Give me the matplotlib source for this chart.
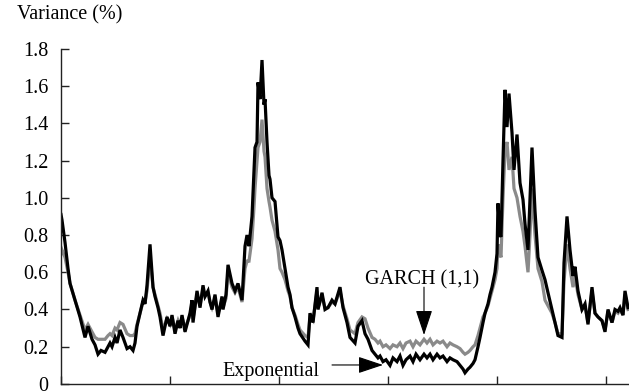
import matplotlib
matplotlib.use("Agg")
import matplotlib.pyplot as plt

plt.rcParams['font.family'] = ['Liberation Serif', 'DejaVu Serif']

# observation index (weekly-ish) and variance estimates in %
obs = [0, 1, 4, 7, 9, 14, 19, 24, 27, 31, 34, 37, 40, 44, 47, 49, 51, 54, 56, 59,
       62, 66, 69, 72, 74, 76, 79, 82, 84, 86, 89, 92, 94, 97, 99, 102, 104, 106, 109, 111,
       114, 117, 119, 121, 124, 127, 129, 131, 132, 136, 139, 142, 144, 147, 149, 151, 154, 157, 161, 162,
       165, 167, 171, 174, 177, 181, 184, 186, 188, 191, 193, 194, 196, 197, 199, 201, 203, 204, 206, 208,
       209, 211, 214, 217, 219, 221, 224, 227, 229, 231, 234, 237, 239, 244, 247, 249, 252, 256, 257, 261,
       264, 267, 271, 274, 279, 282, 286, 289, 294, 297, 301, 304, 307, 311, 314, 317, 319, 322, 325, 329,
       332, 336, 339, 342, 345, 349, 352, 355, 359, 363, 366, 369, 372, 376, 379, 382, 386, 389, 392, 396,
       399, 402, 404, 407, 409, 412, 414, 417, 419, 422, 424, 427, 429, 431, 434, 436, 437, 439, 440, 442,
       444, 446, 448, 451, 453, 456, 459, 462, 464, 467, 469, 471, 474, 477, 481, 484, 487, 491, 494, 497,
       501, 503, 506, 509, 512, 514, 517, 521, 524, 527, 531, 534, 537, 541, 544, 547, 551, 554, 557, 559,
       562, 564, 567]

exponential = [0.91, 0.88, 0.76, 0.62, 0.54, 0.45, 0.36, 0.25, 0.31, 0.24, 0.21, 0.16, 0.18, 0.17, 0.20, 0.22, 0.20, 0.25, 0.22, 0.29,
               0.25, 0.19, 0.20, 0.18, 0.22, 0.31, 0.38, 0.45, 0.43, 0.53, 0.75, 0.52, 0.47, 0.41, 0.36, 0.26, 0.31, 0.36, 0.31, 0.37,
               0.27, 0.34, 0.30, 0.37, 0.28, 0.34, 0.38, 0.45, 0.33, 0.50, 0.41, 0.53, 0.47, 0.50, 0.44, 0.40, 0.48, 0.36, 0.47, 0.40,
               0.48, 0.64, 0.54, 0.50, 0.54, 0.45, 0.74, 0.80, 0.74, 0.90, 1.15, 1.27, 1.30, 1.62, 1.53, 1.74, 1.50, 1.53, 1.30, 1.12,
               1.10, 1.00, 0.98, 0.79, 0.77, 0.72, 0.62, 0.52, 0.48, 0.41, 0.36, 0.30, 0.27, 0.23, 0.21, 0.38, 0.33, 0.52, 0.40, 0.49,
               0.40, 0.41, 0.45, 0.43, 0.52, 0.41, 0.33, 0.25, 0.22, 0.31, 0.34, 0.27, 0.24, 0.18, 0.16, 0.14, 0.15, 0.12, 0.13, 0.10,
               0.14, 0.12, 0.15, 0.10, 0.13, 0.15, 0.12, 0.16, 0.13, 0.16, 0.14, 0.16, 0.13, 0.16, 0.14, 0.15, 0.12, 0.14, 0.13, 0.12,
               0.10, 0.08, 0.06, 0.08, 0.09, 0.11, 0.13, 0.20, 0.25, 0.33, 0.38, 0.43, 0.48, 0.52, 0.60, 0.70, 0.97, 0.80, 0.79, 1.20,
               1.58, 1.38, 1.56, 1.35, 1.15, 1.34, 1.08, 0.99, 0.86, 0.72, 0.99, 1.27, 0.93, 0.68, 0.61, 0.56, 0.49, 0.40, 0.33, 0.26,
               0.25, 0.65, 0.90, 0.72, 0.58, 0.63, 0.50, 0.40, 0.43, 0.32, 0.52, 0.38, 0.36, 0.34, 0.28, 0.40, 0.33, 0.40, 0.39, 0.41,
               0.37, 0.50, 0.41]

garch = [0.70, 0.72, 0.68, 0.60, 0.54, 0.45, 0.37, 0.29, 0.32, 0.28, 0.25, 0.24, 0.24, 0.24, 0.26, 0.27, 0.26, 0.30, 0.29, 0.33,
         0.32, 0.27, 0.26, 0.26, 0.27, 0.32, 0.38, 0.44, 0.44, 0.50, 0.68, 0.52, 0.48, 0.42, 0.38, 0.29, 0.32, 0.35, 0.32, 0.36,
         0.29, 0.34, 0.31, 0.36, 0.30, 0.34, 0.37, 0.43, 0.35, 0.48, 0.42, 0.51, 0.47, 0.49, 0.44, 0.41, 0.46, 0.38, 0.45, 0.41,
         0.46, 0.60, 0.52, 0.49, 0.52, 0.44, 0.62, 0.66, 0.66, 0.78, 0.95, 1.05, 1.20, 1.27, 1.30, 1.42, 1.25, 1.22, 1.05, 0.98,
         0.95, 0.88, 0.82, 0.72, 0.62, 0.60, 0.56, 0.50, 0.47, 0.41, 0.37, 0.32, 0.29, 0.26, 0.25, 0.36, 0.34, 0.50, 0.41, 0.47,
         0.41, 0.41, 0.44, 0.43, 0.50, 0.42, 0.35, 0.29, 0.27, 0.33, 0.36, 0.35, 0.30, 0.25, 0.24, 0.22, 0.23, 0.20, 0.21, 0.19,
         0.21, 0.20, 0.22, 0.19, 0.22, 0.23, 0.20, 0.23, 0.21, 0.24, 0.22, 0.24, 0.21, 0.23, 0.22, 0.23, 0.20, 0.22, 0.21, 0.20,
         0.19, 0.17, 0.16, 0.17, 0.18, 0.20, 0.21, 0.26, 0.30, 0.36, 0.38, 0.42, 0.46, 0.50, 0.56, 0.62, 0.75, 0.70, 0.68, 1.00,
         1.25, 1.30, 1.15, 1.22, 1.05, 1.00, 0.90, 0.82, 0.74, 0.60, 0.80, 1.05, 0.80, 0.62, 0.55, 0.45, 0.42, 0.38, 0.33, 0.27,
         0.27, 0.55, 0.75, 0.62, 0.52, 0.58, 0.48, 0.40, 0.42, 0.33, 0.50, 0.38, 0.36, 0.34, 0.29, 0.39, 0.33, 0.39, 0.38, 0.40,
         0.37, 0.48, 0.40]

y_ticks = [0, 0.2, 0.4, 0.6, 0.8, 1.0, 1.2, 1.4, 1.6, 1.8]
y_tick_labels = ['0', '0.2', '0.4', '0.6', '0.8', '1.0', '1.2', '1.4', '1.6', '1.8']
x_ticks = [0, 109, 218, 327, 436, 545]

fig = plt.figure(figsize=(6.29, 3.91), dpi=100)
ax = fig.add_axes([0.097, 0.018, 0.903, 0.857])

ax.plot(obs, garch, color='#8a8a8a', lw=2.3, solid_joinstyle='miter')
ax.plot(obs, exponential, color='black', lw=2.3, solid_joinstyle='miter')

ax.set_xlim(0, 568)
ax.set_ylim(0, 1.8)
ax.set_yticks(y_ticks)
ax.set_yticklabels(y_tick_labels)
ax.set_xticks(x_ticks)
ax.set_xticklabels([])

for side in ['top', 'right']:
    ax.spines[side].set_visible(False)
for side in ['left', 'bottom']:
    ax.spines[side].set_linewidth(1.0)
    ax.spines[side].set_color('#222222')

ax.tick_params(axis='both', direction='in', length=6, width=1.0, color='#222222',
               labelsize=14.5, pad=9)

fig.text(17 / 629, 1 - 15 / 391, 'Variance (%)', fontsize=14.5, va='center', ha='left')

# annotations
arrow_style = dict(arrowstyle='-|>,head_length=1.2,head_width=0.4',
                   mutation_scale=13, lw=0.8, color='black',
                   shrinkA=0, shrinkB=0)
ax.text(304, 0.537, 'GARCH (1,1)', fontsize=14.5, ha='left', va='baseline')
ax.annotate('', xy=(363, 0.263), xytext=(363, 0.52), arrowprops=arrow_style)
ax.text(161, 0.043, 'Exponential', fontsize=14.5, ha='left', va='baseline')
ax.annotate('', xy=(322, 0.102), xytext=(271, 0.102), arrowprops=arrow_style)

fig.savefig('out.png', dpi=100)
